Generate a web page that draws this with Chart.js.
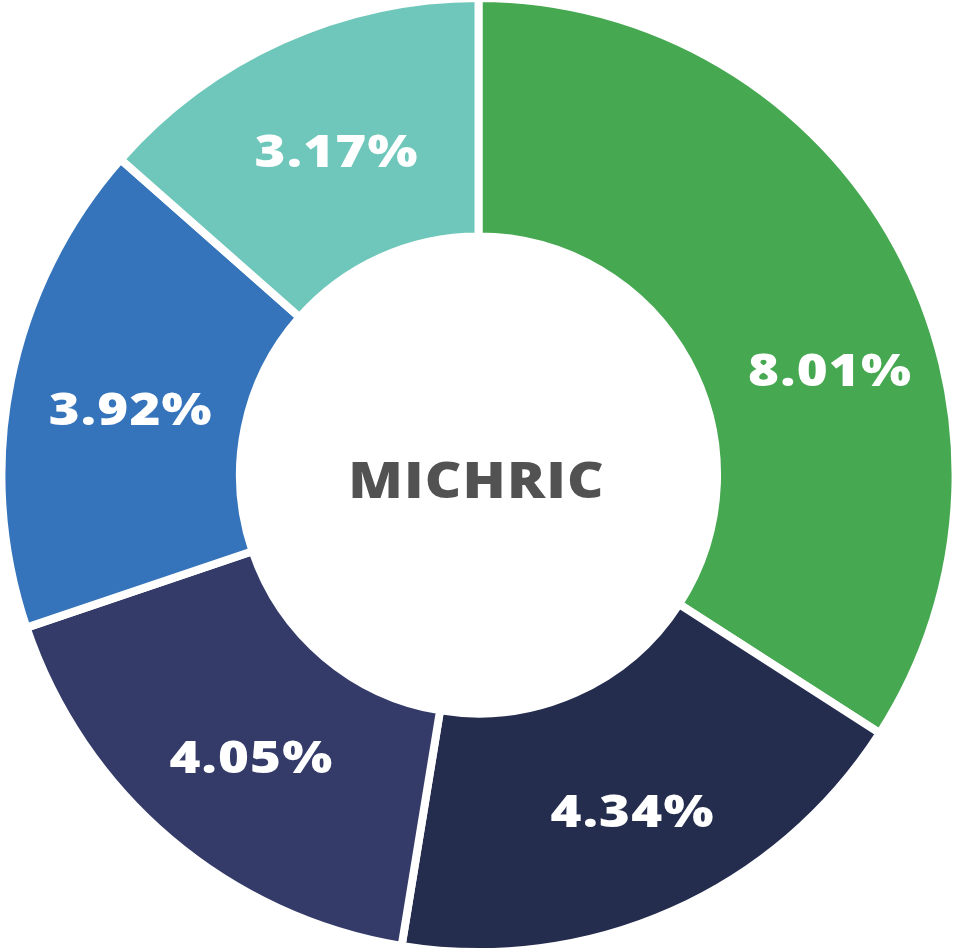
<!DOCTYPE html>
<html>
<head>
<meta charset="utf-8">
<script src="https://cdn.jsdelivr.net/npm/chart.js@4.4.1/dist/chart.umd.min.js"></script>
<style>
  html, body { margin: 0; padding: 0; background: #ffffff; }
  #wrap { width: 953px; height: 950px; }
</style>
</head>
<body>
<div id="wrap"><canvas id="myChart"></canvas></div>
<script>
const labels = ['A', 'B', 'C', 'D', 'E'];
const values = [8.01, 4.34, 4.05, 3.92, 3.17];
const colors = ['#46a851', '#252d4f', '#343b69', '#3574bb', '#6ec7ba'];
const centerText = 'MICHRIC';

// text centred on its cap height, stretched a bit to look like the wide original font
function drawWide(ctx, txt, x, y, size, sx) {
    ctx.font = '800 ' + size + 'px "Open Sans"';
    const m = ctx.measureText(txt);
    const cap = size * 0.714;
    ctx.save();
    ctx.translate(x, y + cap / 2);
    ctx.scale(sx, 1);
    ctx.fillText(txt, -m.width / 2, 0);
    ctx.restore();
}

const labelPlugin = {
    id: 'labelPlugin',
    afterDatasetsDraw(chart) {
        const ctx = chart.ctx;
        const meta = chart.getDatasetMeta(0);
        ctx.save();
        ctx.textAlign = 'left';
        ctx.textBaseline = 'alphabetic';
        ctx.letterSpacing = '1px';
        meta.data.forEach(function(arc, i) {
            const p = arc.getProps(['x', 'y', 'startAngle', 'endAngle', 'innerRadius', 'outerRadius'], true);
            let mid = (p.startAngle + p.endAngle) / 2;
            if (i == 0) mid += 0.19;
            const r = (p.innerRadius + p.outerRadius) / 2 + 4;
            const x = p.x + Math.cos(mid) * r + 7;
            const y = p.y + Math.sin(mid) * r + 6;
            ctx.fillStyle = '#ffffff';
            drawWide(ctx, values[i].toFixed(2) + '%', x, y, 44, 1.2);
        });
        const c = meta.data[0];
        ctx.fillStyle = '#525252';
        drawWide(ctx, centerText, c.x - 2, c.y + 5, 50, 1.13);
        ctx.restore();
    }
};

const data = {
    labels: labels,
    datasets: [{
        data: values,
        backgroundColor: colors,
        borderColor: '#ffffff',
        borderWidth: 8,
        hoverOffset: 0
    }]
};

const config = {
    type: 'doughnut',
    data: data,
    options: {
        responsive: true,
        maintainAspectRatio: false,
        animation: false,
        radius: '101.4%',
        cutout: '50%',
        layout: { padding: { left: 4, top: 0, right: 0, bottom: 0 } },
        plugins: {
            legend: { display: false },
            tooltip: { enabled: false }
        }
    },
    plugins: [labelPlugin]
};

const myChart = new Chart(document.getElementById('myChart'), config);
</script>
</body>
</html>
